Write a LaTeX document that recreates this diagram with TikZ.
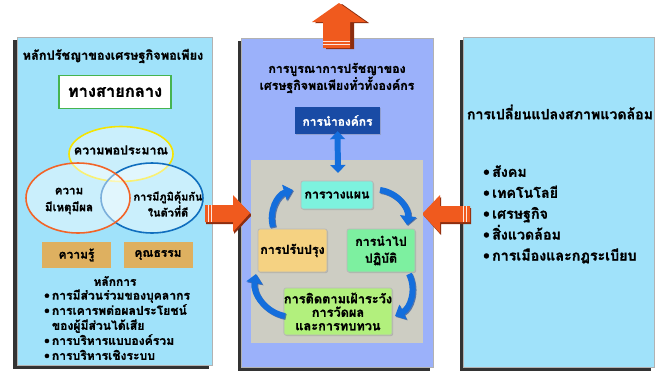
\documentclass[tikz,border=0pt]{standalone}
\usepackage{fontspec}
\setmainfont[Script=Thai, BoldFeatures={FakeBold=1.2}]{Loma}
\usetikzlibrary{shapes.geometric,arrows.meta,shadows,calc}
\definecolor{skyp}{RGB}{160,226,250}
\definecolor{perip}{RGB}{155,177,250}
\definecolor{grayin}{RGB}{205,205,195}
\definecolor{orng}{RGB}{240,90,30}
\definecolor{orngdk}{RGB}{140,45,15}
\definecolor{tanbox}{RGB}{222,176,96}
\definecolor{greenb}{RGB}{70,180,80}
\definecolor{ellY}{RGB}{245,228,0}
\definecolor{ellO}{RGB}{242,100,40}
\definecolor{ellB}{RGB}{16,110,190}
\definecolor{leadbl}{RGB}{25,75,165}
\definecolor{cyanb}{RGB}{125,242,222}
\definecolor{greenbx}{RGB}{125,240,160}
\definecolor{yelbx}{RGB}{245,210,130}
\definecolor{limebx}{RGB}{178,240,125}
\definecolor{arrbl}{RGB}{20,110,220}
\definecolor{arrbldk}{RGB}{10,60,150}
\newcommand{\fsz}[2]{\bfseries\fontsize{#1}{#2}\selectfont}
\tikzset{
  paneltxt/.style={font=\fsz{12.5}{17}, align=center, inner sep=0pt},
  venn/.style={ellipse, line width=1.6pt, fill=white, fill opacity=0.45, text opacity=1, inner sep=0pt},
  tanstyle/.style={fill=tanbox, minimum width=69bp, minimum height=26bp, inner sep=0pt, font=\fsz{12}{14}},
  cyclebox/.style={draw=gray!55, line width=0.8pt, rounded corners=2pt, inner sep=0pt, align=center,
    font=\fsz{12.5}{17}, drop shadow={opacity=0.35,shadow xshift=1pt,shadow yshift=-1pt}},
  cyclearrow/.style={line width=6pt, arrbl, -{Triangle[length=9pt,width=16pt]}, bend left=45},
  cycleshade/.style={line width=6pt, arrbldk, opacity=0.6, -{Triangle[length=9pt,width=16pt]}, bend left=45},
  stripe/.style={white!85!orng, line width=0.8pt},
}
\begin{document}
\begin{tikzpicture}[x=1bp,y=-1bp]
\useasboundingbox (0,0) rectangle (657,375);
\fill[white] (0,0) rectangle (657,375);
% ---------- panels ----------
\fill[black!80] (13,40) rectangle (209,369);
\filldraw[fill=skyp, draw=gray!60, line width=0.6pt] (17,37) rectangle (212,365);
\fill[black!80] (238,41) rectangle (430,371);
\filldraw[fill=perip, draw=gray!60, line width=0.6pt] (241,38) rectangle (433,367);
\fill[black!80] (460,40) rectangle (651,371);
\filldraw[fill=skyp, draw=gray!60, line width=0.6pt] (463,37) rectangle (654,367);
% ---------- orange arrows ----------
% left
\fill[orngdk] (206,207) -- (234,207) -- (234,197) -- (252,215) -- (234,234) -- (234,224) -- (206,224) -- cycle;
\fill[orng] (205,205) -- (233,205) -- (233,195) -- (250,213) -- (233,232) -- (233,222) -- (205,222) -- cycle;
\draw[stripe] (208,205) -- (208,222);
\draw[stripe] (211,205) -- (211,222);
% right
\fill[orngdk] (471,208) -- (441,208) -- (441,197) -- (424,216) -- (441,235) -- (441,224) -- (471,224) -- cycle;
\fill[orng] (470,206) -- (440,206) -- (440,195) -- (422,214) -- (440,233) -- (440,222) -- (470,222) -- cycle;
\draw[stripe] (463,206) -- (463,222);
\draw[stripe] (466,206) -- (466,222);
% top
\fill[orngdk] (326,49) -- (326,23) -- (315,23) -- (342,4) -- (369,23) -- (354,23) -- (354,49) -- cycle;
\fill[orng] (323,48) -- (323,22) -- (312,22) -- (339,3) -- (366,22) -- (350,22) -- (350,48) -- cycle;
\draw[stripe] (323,41) -- (350,41);
\draw[stripe] (323,44.5) -- (350,44.5);
% ---------- left panel ----------
\node[paneltxt, font=\fsz{12.8}{15}] (ltitle) at (113,56) {หลักปรัชญาของเศรษฐกิจพอเพียง};
\node[draw=greenb, line width=1.6pt, fill=white, minimum width=112bp, minimum height=33bp, inner sep=0pt,
  font=\fsz{16.5}{18}] (middle) at (115,92) {ทางสายกลาง};
\node[venn, draw=ellY, minimum width=104bp, minimum height=55bp] (moder) at (121,154) {};
\node[venn, draw=ellB, minimum width=102bp, minimum height=70bp] (immun) at (152,198) {};
\node[venn, draw=ellO, minimum width=104bp, minimum height=70bp] (reason) at (78,198) {};
\node[paneltxt] (modert) at (121,150) {ความพอประมาณ};
\node[paneltxt, font=\fsz{11.6}{17}] (reasont) at (69,201) {ความ\\มีเหตุมีผล};
\node[paneltxt, font=\fsz{11}{16}] (immunt) at (168,204) {การมีภูมิคุ้มกัน\\ในตัวที่ดี};
\node[tanstyle] (know) at (76.5,255) {ความรู้};
\node[tanstyle] (virtue) at (158,255) {คุณธรรม};
\node[paneltxt, font=\fsz{12}{14}] (princ) at (115,281) {หลักการ};
\node[anchor=north west, inner sep=0pt, font=\fsz{12.2}{15}] (plist) at (44,289)
 {\begin{tabular}{@{}l@{\,}l@{}}
  \textbullet & การมีส่วนร่วมของบุคลากร\\
  \textbullet & การเคารพต่อผลประโยชน์\\
   & ของผู้มีส่วนได้เสีย\\
  \textbullet & การบริหารแบบองค์รวม\\
  \textbullet & การบริหารเชิงระบบ
 \end{tabular}};
% ---------- middle panel ----------
\node[paneltxt, font=\fsz{12.4}{17}] (mtitle) at (337,78) {การบูรณาการปรัชญาของ\\เศรษฐกิจพอเพียงทั่วทั้งองค์กร};
\node[fill=leadbl, text=white, minimum width=85bp, minimum height=27bp, inner sep=0pt,
  font=\fsz{12}{14}, drop shadow={opacity=0.35,shadow xshift=1pt,shadow yshift=-1pt}] (lead) at (337.5,120.5) {การนำองค์กร};
\fill[grayin] (251,160) rectangle (423,343);
\coordinate (dbl) at (338,173);
\draw[line width=6pt, arrbl, {Triangle[length=8pt,width=15pt]}-{Triangle[length=8pt,width=15pt]}] ([yshift=3bp]lead.south) -- (dbl);
\node[cyclebox, fill=cyanb, minimum width=72bp, minimum height=28bp] (plan) at (337,195) {การวางแผน};
\node[cyclebox, fill=greenbx, minimum width=68bp, minimum height=43bp] (impl) at (381,250.5) {การนำไป\\ปฏิบัติ};
\node[cyclebox, fill=yelbx, minimum width=69bp, minimum height=43bp] (impr) at (292.5,250.5) {การปรับปรุง};
\node[cyclebox, fill=limebx, minimum width=108bp, minimum height=47bp, font=\fsz{12.8}{13.5}] (mon) at (338,311.5) {การติดตามเฝ้าระวัง\\การวัดผล\\และการทบทวน};
\coordinate (a1s) at (273,227); \coordinate (a1e) at (293,190);
\coordinate (a2s) at (380,190); \coordinate (a2e) at (407,225);
\coordinate (a3s) at (409,274); \coordinate (a3e) at (395,316);
\coordinate (a4s) at (285,316); \coordinate (a4e) at (256,274);
\draw[cycleshade, transform canvas={shift={(1pt,-1pt)}}] (a1s) to (a1e);
\draw[cycleshade, transform canvas={shift={(1pt,-1pt)}}] (a2s) to (a2e);
\draw[cycleshade, transform canvas={shift={(1pt,-1pt)}}] (a3s) to (a3e);
\draw[cycleshade, transform canvas={shift={(1pt,-1pt)}}] (a4s) to (a4e);
\draw[cyclearrow] (a1s) to (a1e);
\draw[cyclearrow] (a2s) to (a2e);
\draw[cyclearrow] (a3s) to (a3e);
\draw[cyclearrow] (a4s) to (a4e);
% ---------- right panel ----------
\node[paneltxt, font=\fsz{14.2}{16}] (rtitle) at (560,112) {การเปลี่ยนแปลงสภาพแวดล้อม};
\node[anchor=north west, inner sep=0pt, font=\fsz{14.3}{21}] (rlist) at (483,162)
 {\begin{tabular}{@{}l@{\,}l@{}}
  \textbullet & สังคม\\
  \textbullet & เทคโนโลยี\\
  \textbullet & เศรษฐกิจ\\
  \textbullet & สิ่งแวดล้อม\\
  \textbullet & การเมืองและกฎระเบียบ
 \end{tabular}};
\end{tikzpicture}
\end{document}
